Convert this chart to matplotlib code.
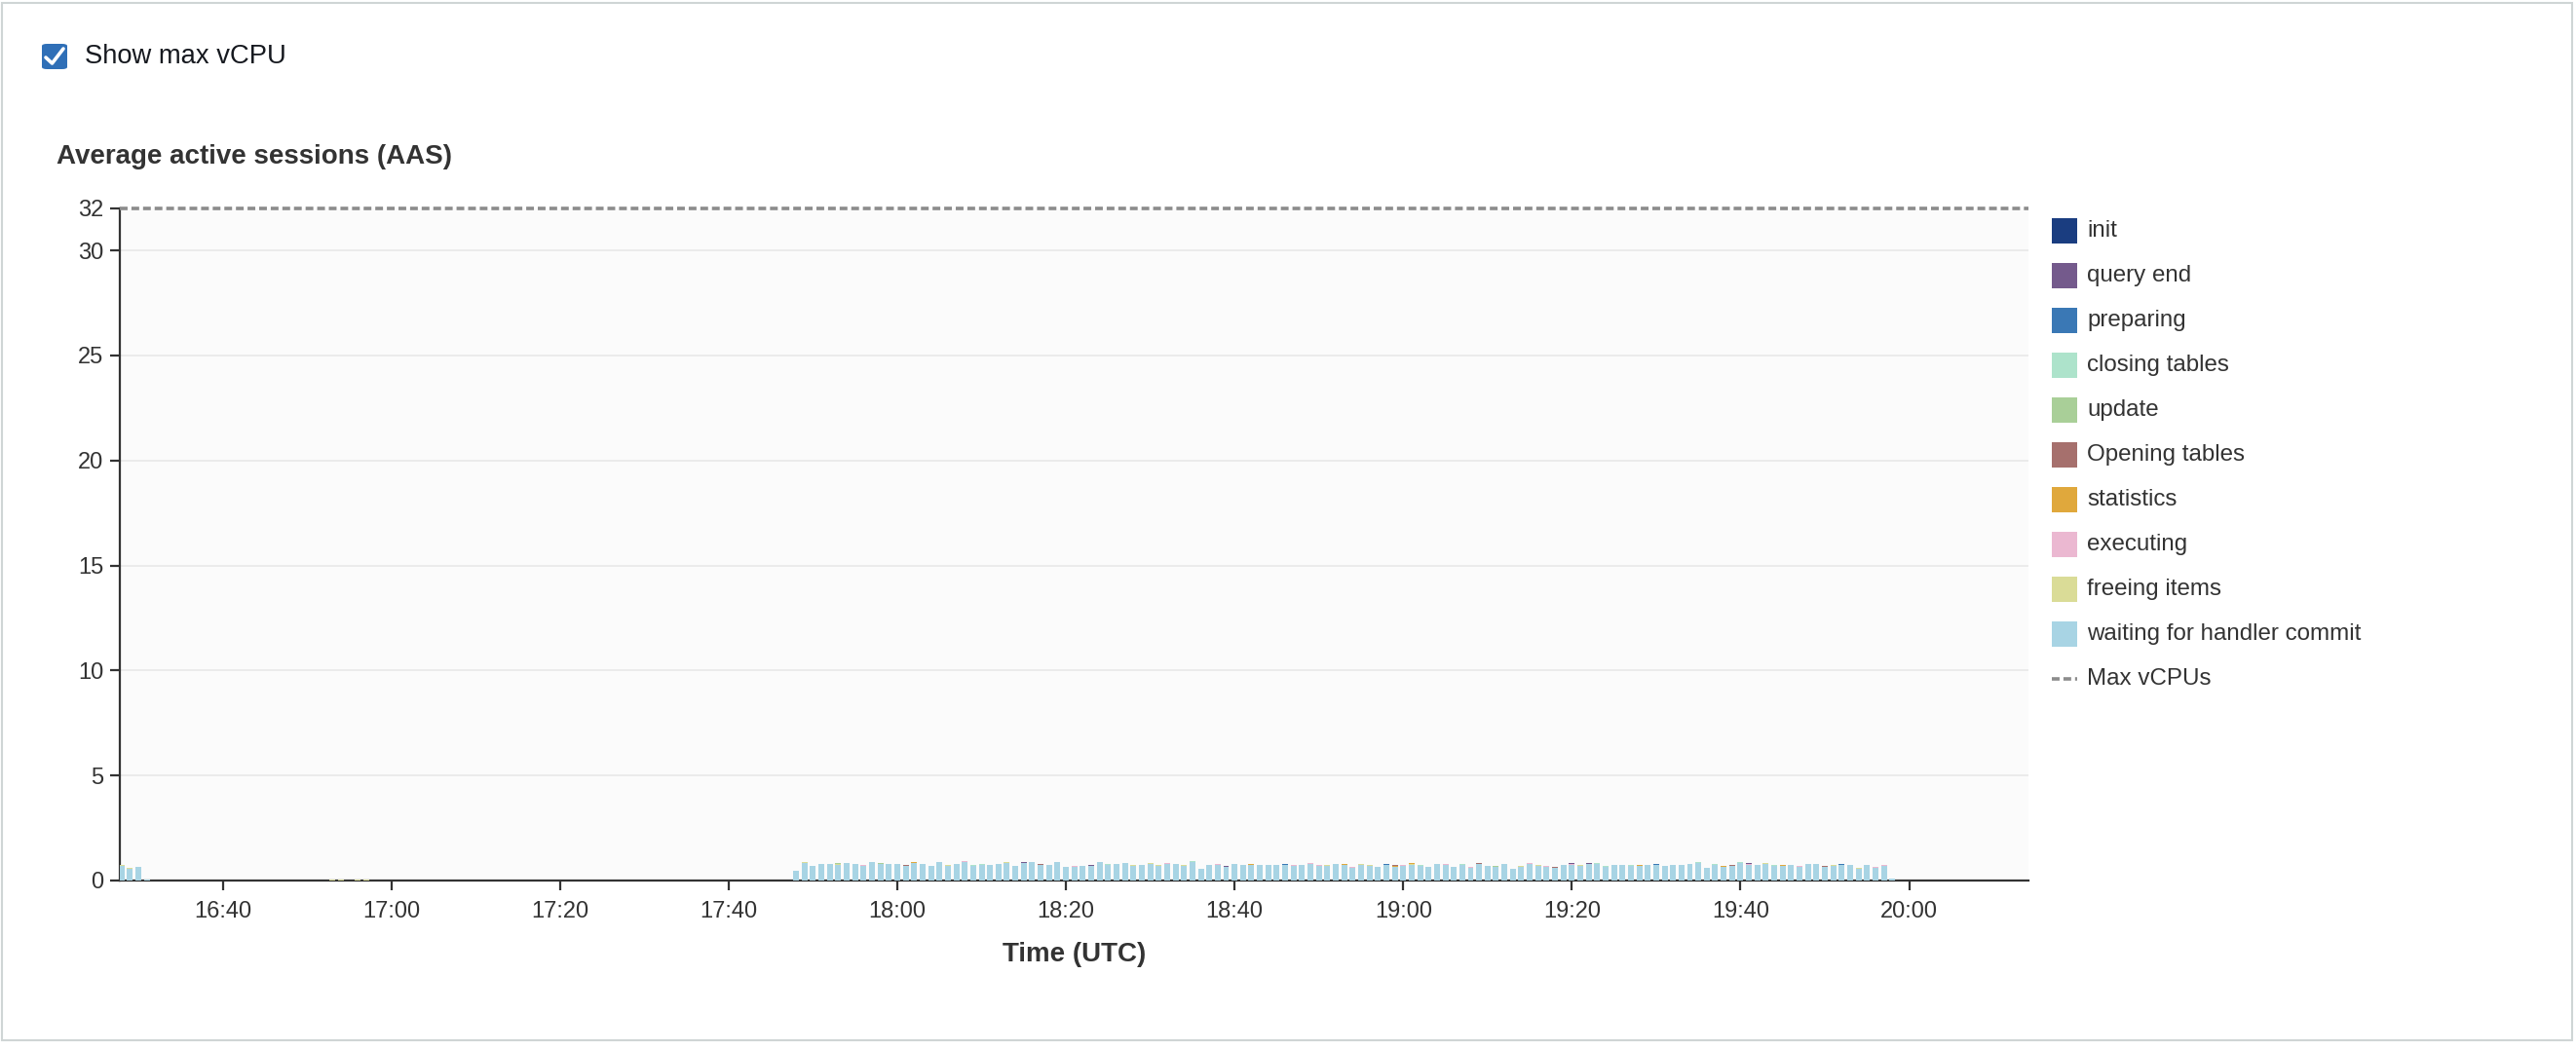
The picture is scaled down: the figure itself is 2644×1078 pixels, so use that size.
import numpy as np
import pandas as pd
import matplotlib
matplotlib.use("Agg")
import matplotlib.pyplot as plt
import matplotlib.dates as mdates
from matplotlib.patches import Rectangle, FancyBboxPatch
from matplotlib.lines import Line2D

plt.rcParams['font.family'] = ['Liberation Sans', 'DejaVu Sans']

W, H = 2644, 1078

categories = ["init", "query end", "preparing", "closing tables", "update",
              "Opening tables", "statistics", "executing", "freeing items",
              "waiting for handler commit"]
colors = ["#1a3d80", "#745a8c", "#3a78b5", "#ade3cb", "#a9cf98",
          "#a6706d", "#e0a83c", "#ebb8d1", "#dadc97", "#a8d4e4"]
max_vcpu = 32

day = "2024-01-01 "

# burst at the left edge
early_start = "16:28"
early_waiting = [0.69, 0.56, 0.66, 0.03]
early_freeing = [0.04, 0.04, 0.0, 0.0]

# tiny activity while idle
idle_times = ["16:53", "16:54", "16:55", "16:56", "16:57", "16:58", "17:02", "17:08",
              "17:45", "17:46", "17:47"]
idle_freeing = [0.03, 0.03, 0.02, 0.03, 0.03, 0.02, 0.02, 0.02, 0.02, 0.02, 0.02]

# main block, one bar per minute
main_start = "17:48"
main_waiting = [
    0.46, 0.85, 0.70, 0.78, 0.80, 0.76, 0.83, 0.79, 0.71, 0.86,
    0.80, 0.77, 0.78, 0.71, 0.84, 0.77, 0.68, 0.88, 0.68, 0.80,
    0.88, 0.70, 0.74, 0.74, 0.78, 0.84, 0.68, 0.83, 0.88, 0.74,
    0.76, 0.86, 0.65, 0.67, 0.70, 0.69, 0.86, 0.74, 0.79, 0.84,
    0.70, 0.73, 0.80, 0.68, 0.80, 0.79, 0.71, 0.88, 0.57, 0.74,
    0.74, 0.66, 0.77, 0.72, 0.74, 0.73, 0.74, 0.73, 0.76, 0.71,
    0.72, 0.81, 0.71, 0.71, 0.77, 0.76, 0.60, 0.74, 0.71, 0.63,
    0.74, 0.67, 0.71, 0.76, 0.71, 0.63, 0.77, 0.76, 0.63, 0.74,
    0.62, 0.77, 0.68, 0.65, 0.79, 0.57, 0.65, 0.81, 0.71, 0.66,
    0.60, 0.72, 0.76, 0.71, 0.78, 0.81, 0.65, 0.72, 0.72, 0.71,
    0.70, 0.72, 0.76, 0.68, 0.72, 0.72, 0.77, 0.82, 0.58, 0.76,
    0.64, 0.69, 0.82, 0.76, 0.72, 0.80, 0.71, 0.71, 0.72, 0.64,
    0.77, 0.77, 0.65, 0.69, 0.74, 0.72, 0.55, 0.72, 0.61, 0.68,
    0.09]

# thin caps of the other states on top of some bars (bar index: value)
main_caps = {
    "init": {35: 0.02},
    "query end": {27: 0.03, 35: 0.03, 51: 0.03, 58: 0.03, 92: 0.03, 94: 0.03, 113: 0.03},
    "preparing": {58: 0.02, 70: 0.03, 102: 0.03, 124: 0.03},
    "closing tables": {1: 0.02, 11: 0.03, 21: 0.03, 22: 0.03, 37: 0.02, 42: 0.03, 47: 0.03,
                       52: 0.03, 74: 0.03, 76: 0.03, 79: 0.03, 86: 0.02, 91: 0.03, 95: 0.03,
                       96: 0.03, 99: 0.03, 104: 0.03, 106: 0.03, 107: 0.02, 109: 0.03,
                       112: 0.02, 115: 0.02, 116: 0.03, 120: 0.03, 127: 0.03},
    "update": {5: 0.03, 10: 0.03, 60: 0.03, 83: 0.03, 98: 0.03, 121: 0.02},
    "Opening tables": {13: 0.03, 15: 0.02, 16: 0.03, 29: 0.02, 59: 0.02, 63: 0.03, 64: 0.03,
                       71: 0.03, 75: 0.03, 77: 0.02, 80: 0.03, 81: 0.02, 90: 0.03, 111: 0.03,
                       121: 0.02, 122: 0.03},
    "statistics": {3: 0.03, 14: 0.03, 54: 0.05, 65: 0.03, 71: 0.02, 73: 0.04, 100: 0.04,
                   110: 0.02, 117: 0.03},
    "executing": {8: 0.03, 20: 0.03, 26: 0.02, 31: 0.03, 33: 0.02, 40: 0.03, 44: 0.02,
                  50: 0.03, 59: 0.03, 61: 0.03, 62: 0.03, 66: 0.03, 69: 0.03, 72: 0.03,
                  77: 0.03, 80: 0.02, 81: 0.03, 87: 0.03, 89: 0.03, 92: 0.03, 94: 0.03,
                  101: 0.03, 105: 0.03, 113: 0.03, 119: 0.04, 122: 0.02, 125: 0.03,
                  128: 0.03, 129: 0.02},
    "freeing items": {1: 0.02, 5: 0.03, 18: 0.04, 25: 0.03, 29: 0.02, 35: 0.02, 36: 0.03,
                      37: 0.02, 40: 0.03, 42: 0.02, 43: 0.04, 46: 0.03, 53: 0.03, 57: 0.03,
                      63: 0.02, 67: 0.03, 68: 0.03, 73: 0.02, 78: 0.03, 82: 0.03, 86: 0.03,
                      88: 0.03, 93: 0.03, 97: 0.03, 103: 0.03, 107: 0.02, 108: 0.04,
                      110: 0.03, 112: 0.03, 114: 0.03, 115: 0.03, 118: 0.03, 123: 0.03,
                      126: 0.03, 129: 0.03},
}

# ---- build one table: rows = minutes, columns = states
early_idx = pd.date_range(day + early_start, periods=len(early_waiting), freq="min")
idle_idx = pd.DatetimeIndex([pd.Timestamp(day + t) for t in idle_times])
main_idx = pd.date_range(day + main_start, periods=len(main_waiting), freq="min")
df = pd.DataFrame(0.0, index=early_idx.append(idle_idx).append(main_idx), columns=categories)
df.loc[early_idx, "waiting for handler commit"] = early_waiting
df.loc[early_idx, "freeing items"] = early_freeing
df.loc[idle_idx, "freeing items"] = idle_freeing
df.loc[main_idx, "waiting for handler commit"] = main_waiting
for name, caps in main_caps.items():
    for i, v in caps.items():
        df.loc[main_idx[i], name] += v

fig = plt.figure(figsize=(W / 100, H / 100), dpi=100)
ax = fig.add_axes([123 / W, 1 - 904 / H, (2082 - 123) / W, (904 - 214) / H])
ax.set_facecolor("#fbfbfb")

x = mdates.date2num(df.index.to_pydatetime())
width = 0.69 / 1440
bottom = np.zeros(len(df))
for name, color in list(zip(categories, colors))[::-1]:
    vals = df[name].values
    ax.bar(x, vals, width=width, bottom=bottom, color=color, linewidth=0, zorder=3)
    bottom += vals

dash = (0, (2.2, 1.1))
ax.axhline(max_vcpu, color="#8c8c8c", lw=2.6, linestyle=dash, clip_on=False, zorder=4)

ax.set_xlim(mdates.date2num(pd.Timestamp(day + "16:27:48")),
            mdates.date2num(pd.Timestamp(day + "20:14:09")))
ax.set_ylim(0, max_vcpu)
ax.set_yticks([0, 5, 10, 15, 20, 25, 30, 32])
ax.xaxis.set_major_locator(mdates.MinuteLocator(byminute=[0, 20, 40]))
ax.xaxis.set_major_formatter(mdates.DateFormatter("%H:%M"))

for y in [5, 10, 15, 20, 25, 30]:
    ax.axhline(y, color="#e8e8e8", lw=1.2, zorder=1)

for s in ["top", "right"]:
    ax.spines[s].set_visible(False)
for s in ["left", "bottom"]:
    ax.spines[s].set_color("#333333")
    ax.spines[s].set_linewidth(1.6)
ax.tick_params(axis="both", colors="#333333", labelsize=17, width=1.6, length=7)
ax.tick_params(axis="y", pad=5)
ax.tick_params(axis="x", pad=8)

ax.set_xlabel("Time (UTC)", fontsize=20, fontweight="bold", color="#333333")
ax.xaxis.set_label_coords(0.5, -0.091)

fig.text(58 / W, 1 - 168 / H, "Average active sessions (AAS)", fontsize=20,
         fontweight="bold", color="#333333", va="baseline", ha="left")

# checkbox
fig.add_artist(FancyBboxPatch((43 / W, 1 - 71 / H), 26 / W, 26 / H,
                              boxstyle="round,pad=0,rounding_size=0.002",
                              transform=fig.transFigure, facecolor="#2f6fb7", edgecolor="none"))
fig.add_artist(Line2D([47 / W, 53.5 / W, 65 / W], [1 - 59 / H, 1 - 65 / H, 1 - 50 / H],
                      transform=fig.transFigure, color="white", lw=2.6,
                      solid_capstyle="round", solid_joinstyle="round"))
fig.text(87 / W, 1 - 58 / H, "Show max vCPU", fontsize=19.7, color="#16191f",
         va="center", ha="left")

# legend
for i, (name, color) in enumerate(zip(categories, colors)):
    yc = 237 + 46 * i
    fig.add_artist(Rectangle((2106 / W, 1 - (yc + 13) / H), 26 / W, 26 / H,
                             transform=fig.transFigure, facecolor=color, edgecolor="none"))
    fig.text(2142 / W, 1 - yc / H, name, fontsize=17.4, color="#333333", va="center", ha="left")
yc = 237 + 46 * len(categories)
fig.add_artist(Line2D([2106 / W, 2132 / W], [1 - yc / H, 1 - yc / H], transform=fig.transFigure,
                      color="#8c8c8c", lw=2.6, linestyle=dash))
fig.text(2142 / W, 1 - yc / H, "Max vCPUs", fontsize=17.4, color="#333333", va="center", ha="left")

# page border
fig.add_artist(Rectangle((2 / W, 1 - 1068 / H), 2638 / W, 1065 / H, transform=fig.transFigure,
                         facecolor="none", edgecolor="#cfd5d5", lw=1.5))

fig.savefig("out.png", dpi=100)
plt.close(fig)
